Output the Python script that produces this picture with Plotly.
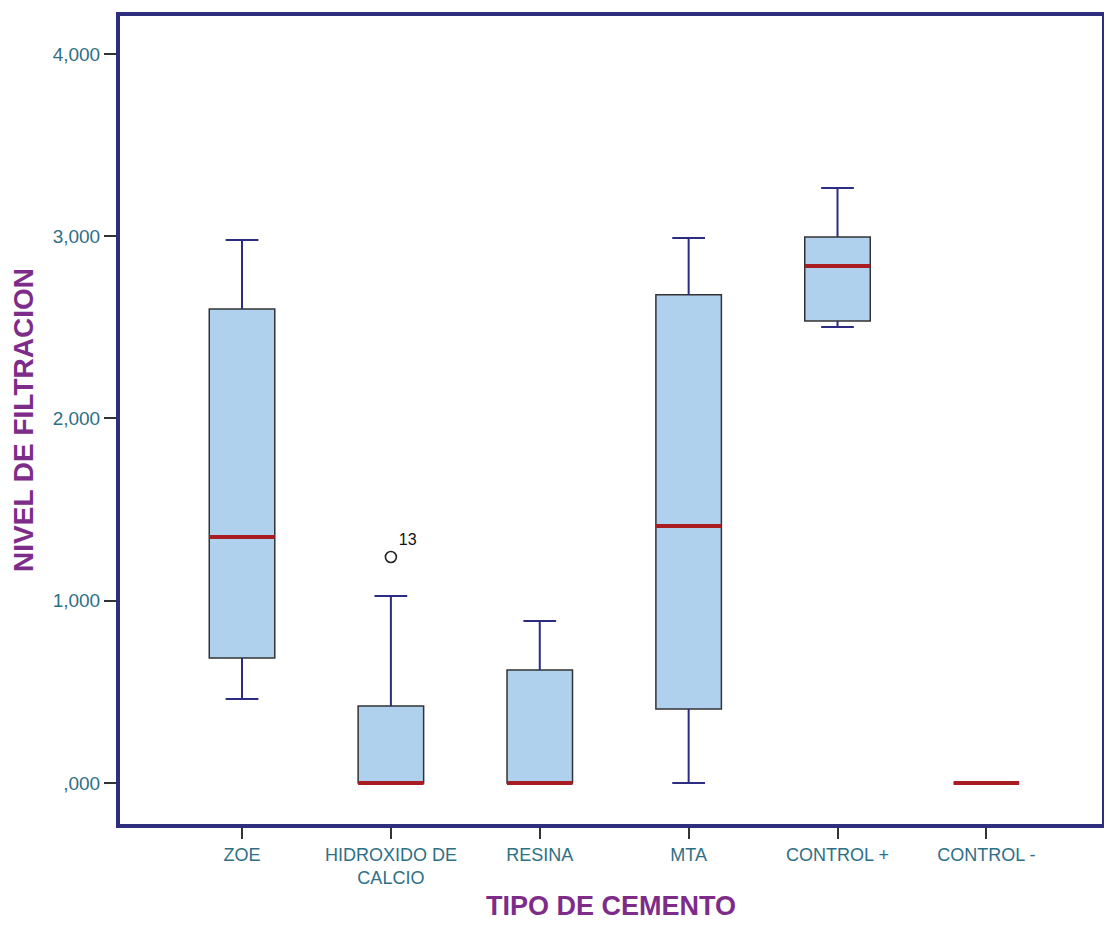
import plotly.graph_objects as go

categories = ["ZOE", "HIDROXIDO DE<br>CALCIO", "RESINA", "MTA", "CONTROL +", "CONTROL -"]
lower_whisker = [461, 0, 0, 0, 2502, 0]
q1 = [686, 0, 0, 406, 2535, 0]
median = [1350, 0, 0, 1410, 2837, 0]
q3 = [2601, 422, 620, 2678, 2996, 0]
upper_whisker = [2979, 1026, 889, 2990, 3265, 0]
outlier_cat = [1]
outlier_val = [1240]
outlier_lbl = ["13"]
ytick_vals = [0, 1000, 2000, 3000, 4000]
ytick_text = [",000", "1,000", "2,000", "3,000", "4,000"]

BOX_W = 0.44
CAP_W = 0.22
idx = list(range(len(categories)))

fig = go.Figure()

# boxes
fig.add_trace(go.Bar(
    x=idx, base=q1, y=[b - a for a, b in zip(q1, q3)], width=BOX_W,
    marker=dict(color="#B0D1EE", line=dict(color="#333333", width=1.5)),
    hoverinfo="skip", showlegend=False))

# whiskers
wx, wy = [], []
for i in idx:
    if upper_whisker[i] > q3[i]:
        wx += [i, i, None, i - CAP_W / 2, i + CAP_W / 2, None]
        wy += [q3[i], upper_whisker[i], None, upper_whisker[i], upper_whisker[i], None]
    if lower_whisker[i] < q1[i]:
        wx += [i, i, None, i - CAP_W / 2, i + CAP_W / 2, None]
        wy += [q1[i], lower_whisker[i], None, lower_whisker[i], lower_whisker[i], None]
fig.add_trace(go.Scatter(x=wx, y=wy, mode="lines",
                         line=dict(color="#2B2C82", width=2),
                         hoverinfo="skip", showlegend=False))

# medians
mx, my = [], []
for i in idx:
    mx += [i - BOX_W / 2, i + BOX_W / 2, None]
    my += [median[i], median[i], None]
fig.add_trace(go.Scatter(x=mx, y=my, mode="lines",
                         line=dict(color="#A81C22", width=4),
                         hoverinfo="skip", showlegend=False))

# outliers
fig.add_trace(go.Scatter(
    x=outlier_cat, y=outlier_val, mode="markers+text", text=outlier_lbl,
    textposition="top right",
    textfont=dict(family="Liberation Sans, Arial", size=16, color="#111111"),
    marker=dict(symbol="circle-open", size=11, color="#222222", line=dict(width=1.6)),
    hoverinfo="skip", showlegend=False))

fig.update_layout(
    width=1096, height=913,
    margin=dict(l=110, r=0, t=6, b=95),
    paper_bgcolor="white", plot_bgcolor="white",
    font=dict(family="Liberation Sans, Arial", color="#2E6F86"),
    xaxis=dict(
        range=[-0.833, 5.79], tickmode="array", tickvals=idx, ticktext=categories,
        showgrid=False, zeroline=False, showline=False,
        ticks="outside", ticklen=12, tickwidth=2, tickcolor="#333333",
        tickfont=dict(size=18, color="#2E6F86"),
        title=dict(text="<b>TIPO DE CEMENTO</b>", font=dict(size=27, color="#7D2C8A"), standoff=14),
    ),
    yaxis=dict(
        range=[-236, 4219], tickmode="array", tickvals=ytick_vals, ticktext=ytick_text,
        showgrid=False, zeroline=False, showline=False,
        ticks="outside", ticklen=13, tickwidth=2, tickcolor="#333333",
        tickfont=dict(size=19, color="#2E6F86"),
        title=dict(text="<b>NIVEL DE FILTRACION</b>", font=dict(size=28, color="#7D2C8A"), standoff=12),
    ),
    shapes=[dict(type="rect", xref="paper", yref="paper", x0=0, x1=1, y0=0, y1=1,
                 line=dict(color="#2E2D7E", width=4), layer="above")],
)

fig.write_html("out.html")
